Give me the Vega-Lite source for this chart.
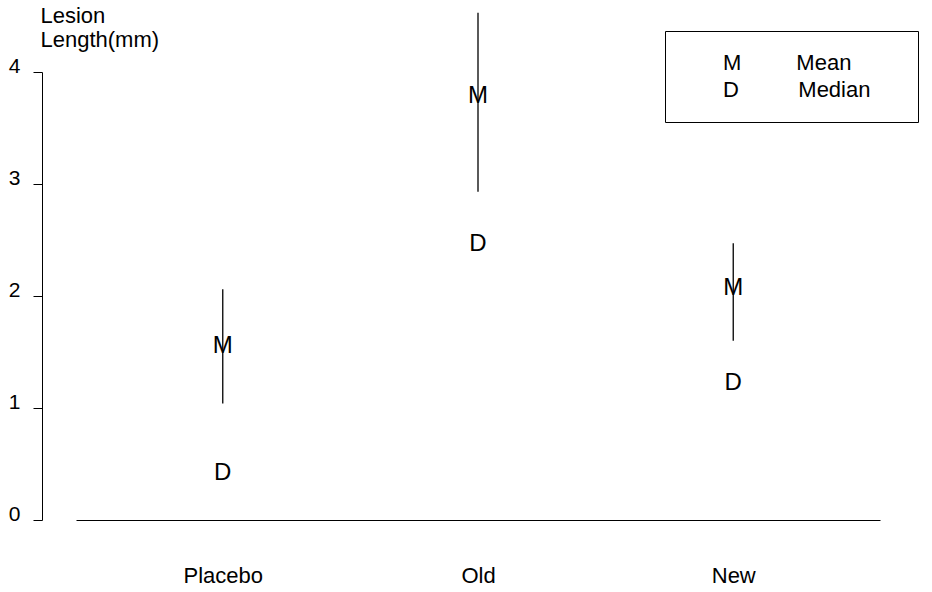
{
  "$schema": "https://vega.github.io/schema/vega-lite/v6.json",
  "autosize": {"type": "none"},
  "width": 804,
  "height": 448,
  "padding": {"left": 76, "top": 72, "right": 52, "bottom": 72},
  "background": "white",
  "config": {
    "font": "Liberation Sans",
    "view": {"stroke": null},
    "axis": {"labelColor": "black", "domainColor": "black", "tickColor": "black", "titleColor": "black", "grid": false, "labelFont": "Liberation Sans", "titleFont": "Liberation Sans"}
  },
  "datasets": {
    "ranges": [
      {"group": "Placebo", "lo": 1.04, "hi": 2.06},
      {"group": "Old", "lo": 2.93, "hi": 4.53},
      {"group": "New", "lo": 1.6, "hi": 2.47}
    ],
    "stats": [
      {"group": "Placebo", "stat": "Mean", "letter": "M", "value": 1.55},
      {"group": "Placebo", "stat": "Median", "letter": "D", "value": 0.42},
      {"group": "Old", "stat": "Mean", "letter": "M", "value": 3.79},
      {"group": "Old", "stat": "Median", "letter": "D", "value": 2.46},
      {"group": "New", "stat": "Mean", "letter": "M", "value": 2.07},
      {"group": "New", "stat": "Median", "letter": "D", "value": 1.22}
    ]
  },
  "encoding": {
    "x": {
      "field": "group",
      "type": "nominal",
      "sort": ["Placebo", "Old", "New"],
      "scale": {"type": "point", "padding": 0.575},
      "axis": {"title": null, "ticks": false, "tickSize": 0, "labelAngle": 0, "labelFontSize": 22, "labelPadding": 45, "labelBaseline": "top"}
    }
  },
  "layer": [
    {
      "data": {"name": "ranges"},
      "mark": {"type": "rule", "color": "black", "strokeWidth": 1.3},
      "encoding": {
        "y": {
          "field": "lo",
          "type": "quantitative",
          "scale": {"domain": [0, 4], "nice": false},
          "axis": {
            "title": ["Lesion", "Length(mm)"],
            "titleAngle": 0,
            "titleAlign": "left",
            "titleBaseline": "alphabetic",
            "titleX": -2,
            "titleY": -50,
            "titleFontSize": 22,
            "titleFontWeight": "normal",
            "titleLineHeight": 24,
            "values": [0, 1, 2, 3, 4],
            "format": "d",
            "offset": 34,
            "tickSize": 9,
            "labelFontSize": 21,
            "labelPadding": 13,
            "labelBaseline": "alphabetic"
          }
        },
        "y2": {"field": "hi"}
      }
    },
    {
      "data": {"name": "stats"},
      "mark": {"type": "text", "fontSize": 24, "font": "Liberation Sans", "align": "center", "baseline": "middle"},
      "encoding": {
        "y": {"field": "value", "type": "quantitative"},
        "text": {"field": "letter"},
        "color": {
          "field": "stat",
          "type": "nominal",
          "scale": {"domain": ["Mean", "Median"], "range": ["black", "black"]},
          "legend": {
            "title": null,
            "orient": "none",
            "legendX": 589,
            "legendY": -41,
            "padding": 21,
            "strokeColor": "black",
            "cornerRadius": 0,
            "symbolOpacity": 0,
            "symbolSize": 400,
            "labelOffset": 15,
            "rowPadding": 5,
            "labelFontSize": 22,
            "labelFont": "Liberation Sans",
            "labelColor": "black",
            "labelLimit": 400,
            "labelExpr": "datum.label == 'Mean' ? 'M\u00a0\u00a0\u00a0\u00a0\u00a0\u00a0\u00a0\u00a0\u00a0Mean' : 'D\u00a0\u00a0\u00a0\u00a0\u00a0\u00a0\u00a0\u00a0\u00a0\u2009Median\u00a0\u2009\u2800'"
          }
        }
      }
    }
  ]
}
